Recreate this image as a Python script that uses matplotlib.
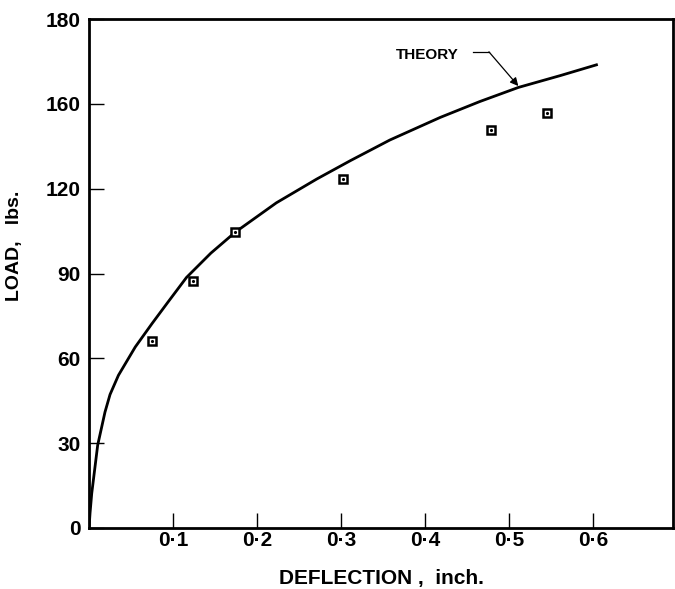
import matplotlib
matplotlib.use("Agg")
import matplotlib.pyplot as plt

plt.rcParams['font.family'] = ['Liberation Sans', 'DejaVu Sans']

# curva teorica (deflexao em polegadas, carga em lbs)
teoria_x = [0.0, 0.0012, 0.0032, 0.0103, 0.019, 0.025, 0.035, 0.055, 0.075,
            0.094, 0.116, 0.145, 0.174, 0.223, 0.271, 0.311, 0.358, 0.418,
            0.465, 0.511, 0.561, 0.604]
teoria_y = [0.0, 5.3, 12.2, 29.3, 41.0, 47.2, 54.0, 64.0, 72.3,
            79.9, 88.6, 97.2, 104.6, 115.0, 123.4, 129.9, 137.2, 145.2,
            150.8, 155.8, 160.0, 163.8]

# pontos experimentais
ensaio_x = [0.075, 0.124, 0.174, 0.302, 0.479, 0.545]
ensaio_y = [66.0, 87.5, 104.6, 123.3, 140.7, 146.6]

xticks = [0.1, 0.2, 0.3, 0.4, 0.5, 0.6]
xlabels = ["0·1", "0·2", "0·3", "0·4", "0·5", "0·6"]
yticks = [0, 30, 60, 90, 120, 150, 180]
ylabels = ["0", "30", "60", "90", "120", "160", "180"]

fig = plt.figure(figsize=(6.75, 5.89), dpi=100)
ax = fig.add_axes([0.1319, 0.1036, 0.865, 0.8641])

ax.plot(teoria_x, teoria_y, color='black', lw=2.0, solid_joinstyle='round')
ax.plot(ensaio_x, ensaio_y, ls='', marker='s', ms=6, mfc='white',
        mec='black', mew=1.8)
ax.plot(ensaio_x, ensaio_y, ls='', marker='.', ms=2.5, color='black')

# rotulo "THEORY" com seta
ax.text(0.402, 167.3, "THEORY", fontsize=11, fontweight='bold',
        ha='center', va='center')
ax.plot([0.457, 0.476], [168.4, 168.4], color='black', lw=0.9)
ax.annotate('', xy=(0.511, 156.3), xytext=(0.476, 168.4),
            arrowprops=dict(arrowstyle='-|>', color='black', lw=0.9,
                            mutation_scale=12, shrinkA=0, shrinkB=0))

ax.set_xlim(0, 0.695)
ax.set_ylim(0, 180)
ax.set_xticks(xticks)
ax.set_xticklabels(xlabels, fontweight='bold')
ax.set_yticks(yticks)
ax.set_yticklabels(ylabels, fontweight='bold')
ax.tick_params(axis='both', direction='in', length=11, width=1.0,
               labelsize=15, colors='black')
ax.tick_params(axis='x', pad=2)
ax.tick_params(axis='y', pad=6)

for s in ax.spines.values():
    s.set_linewidth(2.0)

ax.set_xlabel("DEFLECTION ,  inch.", fontsize=15, fontweight='bold',
              labelpad=14)
ax.set_ylabel("LOAD,   lbs.", fontsize=14, fontweight='bold', va='center')
ax.yaxis.set_label_coords(-0.127, 0.554)

fig.savefig("out.png", dpi=100)
